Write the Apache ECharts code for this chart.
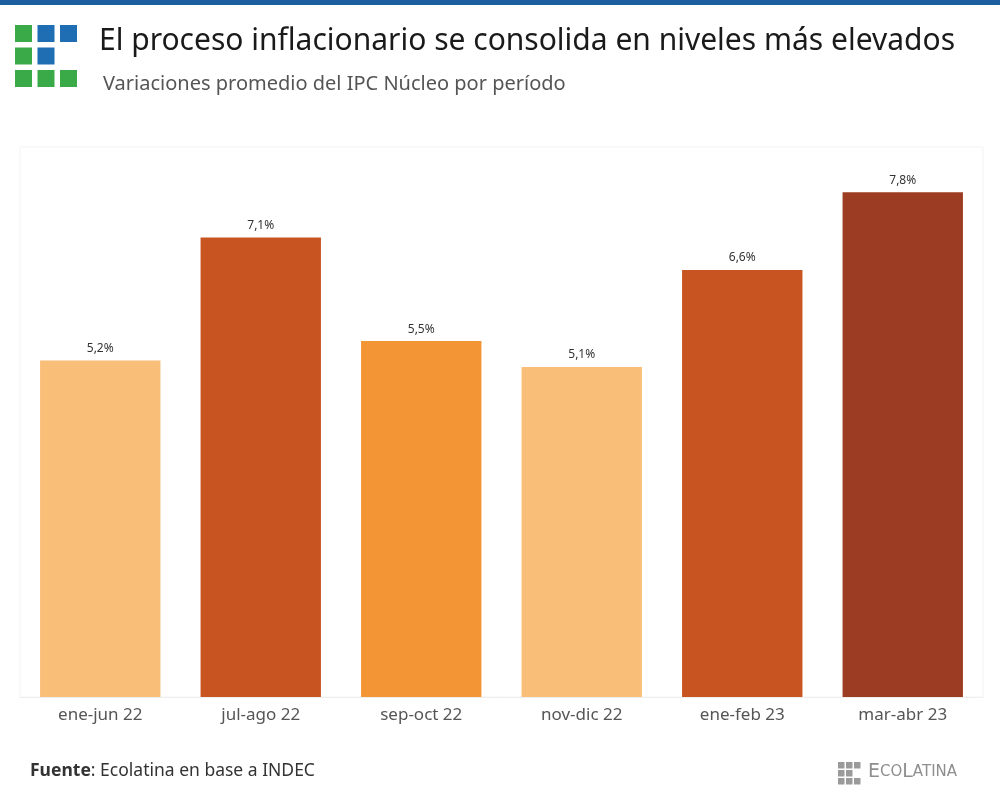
<!DOCTYPE html>
<html>
<head>
<meta charset="utf-8">
<script src="https://cdn.jsdelivr.net/npm/echarts@6/dist/echarts.min.js"></script>
<style>html,body{margin:0;padding:0;background:#fff;}#c{width:1000px;height:800px;}</style>
</head>
<body>
<div id="c"></div>
<script>
var categories = ['ene-jun 22', 'jul-ago 22', 'sep-oct 22', 'nov-dic 22', 'ene-feb 23', 'mar-abr 23'];
var values = [5.2, 7.1, 5.5, 5.1, 6.6, 7.8];
var barColors = ['#F9BE78', '#C85422', '#F39435', '#F9BE78', '#C85422', '#9C3C23'];

var chart = echarts.init(document.getElementById('c'), null, {renderer: 'canvas'});

var logo = [];
var logoPattern = [['g','b','b'],['g','b',null],['g','g','g']];
for (var r = 0; r < 3; r++) {
  for (var c = 0; c < 3; c++) {
    var k = logoPattern[r][c];
    if (!k) continue;
    logo.push({type:'rect', shape:{x:15 + c*22.5, y:25 + r*22.5, width:17, height:17},
      style:{fill: k === 'g' ? '#3AAA48' : '#1F6DB3'}});
  }
}
var eco = [];
for (var r2 = 0; r2 < 3; r2++) {
  for (var c2 = 0; c2 < 3; c2++) {
    if (r2 === 1 && c2 === 2) continue;
    eco.push({type:'rect', shape:{x:838 + c2*8, y:762 + r2*8, width:6.5, height:6.5}, style:{fill:'#9a9a9a'}});
  }
}

var option = {
  backgroundColor: '#ffffff',
  animation: false,
  grid: {left: 20, right: 17, top: 147, bottom: 103, show: true, borderColor: '#f3f3f3', borderWidth: 1},
  xAxis: {
    type: 'category',
    data: categories,
    axisLine: {show: true, lineStyle: {color: '#eeeeee'}},
    axisTick: {show: false},
    axisLabel: {color: '#555555', fontSize: 17, margin: 10, fontFamily: 'Noto Sans'}
  },
  yAxis: {
    type: 'value', min: 0, max: 8.5,
    show: false,
    splitLine: {show: false}
  },
  series: [{
    type: 'bar',
    data: values.map(function (v, i) { return {value: v, itemStyle: {color: barColors[i]}}; }),
    barCategoryGap: '25%',
    label: {
      show: true, position: 'top', distance: 6,
      color: '#333333', fontSize: 12, fontFamily: 'Noto Sans',
      formatter: function (p) { return p.value.toFixed(1).replace('.', ',') + '%'; }
    }
  }],
  graphic: [
    {type:'rect', shape:{x:0, y:0, width:1000, height:5}, style:{fill:'#1D5F9E'}},
    {type:'group', children: logo},
    {type:'text', left: 99, top: 26, style:{text:'El proceso inflacionario se consolida en niveles más elevados', fontSize: 30, fontFamily:'Noto Sans', fill:'#1a1a1a'}},
    {type:'text', left: 103, top: 74, style:{text:'Variaciones promedio del IPC Núcleo por período', fontSize: 20, fontFamily:'Noto Sans', fill:'#555555'}},
    {type:'text', left: 30, top: 762, style:{rich:{b:{fontWeight:'bold', fontSize:17.5, fontFamily:'Noto Sans', fill:'#333'}, n:{fontSize:17.5, fontFamily:'Noto Sans', fill:'#333'}}, text:'{b|Fuente}{n|: Ecolatina en base a INDEC}'}},
    {type:'group', children: eco},
    {type:'text', left: 868, top: 763, style:{rich:{L:{fontSize:19, fontFamily:'DejaVu Sans', fill:'#8f8f8f'}, s:{fontSize:15, fontFamily:'DejaVu Sans', fill:'#8f8f8f'}}, text:'{L|E}{s|CO}{L|L}{s|ATINA}'}}
  ]
};
chart.setOption(option);
</script>
</body>
</html>
